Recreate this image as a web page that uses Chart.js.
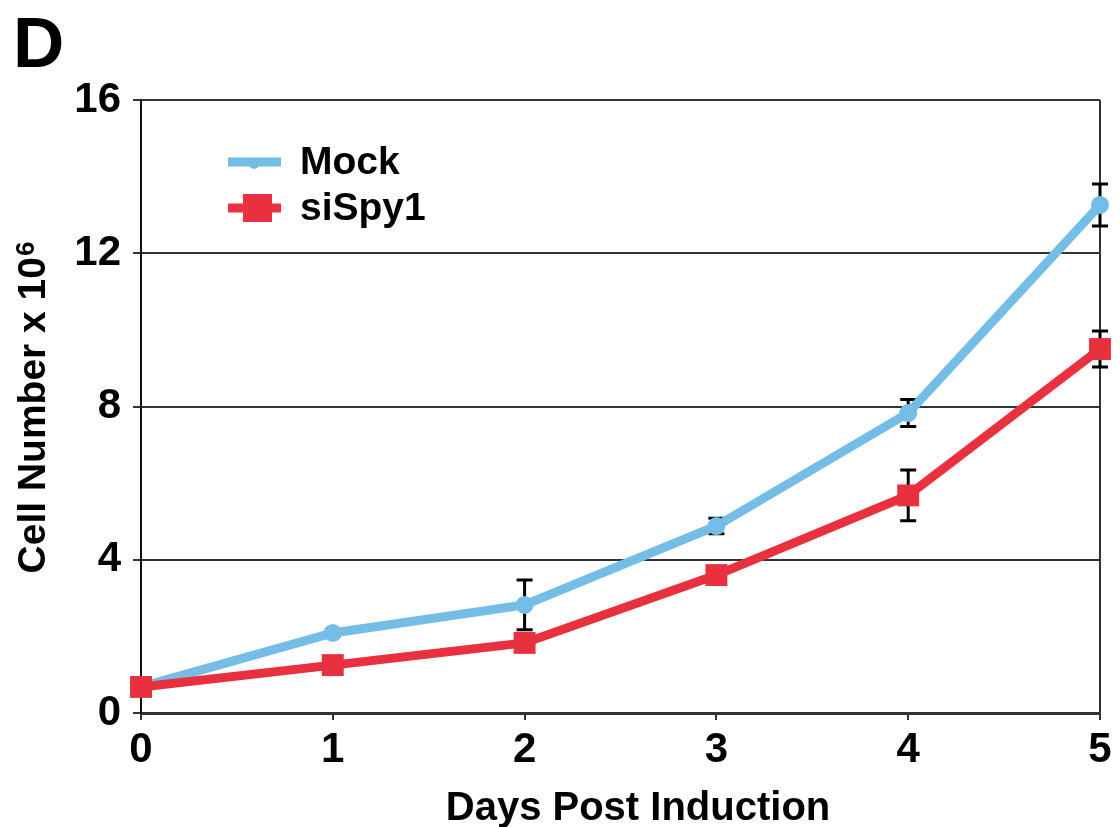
<!DOCTYPE html>
<html>
<head>
<meta charset="utf-8">
<script src="https://cdn.jsdelivr.net/npm/chart.js@4/dist/chart.umd.min.js"></script>
<style>
  html, body { margin: 0; padding: 0; background: #fff; }
  #wrap { width: 1120px; height: 827px; position: relative; }
</style>
</head>
<body>
<div id="wrap"><canvas id="growth-chart"></canvas></div>
<script>
const days = [0, 1, 2, 3, 4, 5];
const mockValues = [0.68, 2.09, 2.82, 4.88, 7.83, 13.26];
const mockErrors = [0, 0.08, 0.65, 0.2, 0.35, 0.55];
const sispyValues = [0.68, 1.25, 1.83, 3.6, 5.68, 9.5];
const sispyErrors = [0, 0.1, 0.15, 0.1, 0.66, 0.47];
const yTicks = [0, 4, 8, 12, 16];

const FONT = "'Liberation Sans', Arial, sans-serif";
const MOCK_COLOR = "#74bde7";
const SISPY_COLOR = "#e8303f";

function toPoints(values, errors) {
  return values.map((v, i) => ({ x: days[i], y: v, err: errors[i] }));
}

// error bars go under the lines and markers
const errorBars = {
  id: "errorBars",
  beforeDatasetsDraw(chart) {
    const ctx = chart.ctx;
    const yScale = chart.scales.y;
    ctx.save();
    ctx.strokeStyle = "#000";
    ctx.lineWidth = 3;
    chart.data.datasets.forEach((ds, di) => {
      const meta = chart.getDatasetMeta(di);
      meta.data.forEach((pt, i) => {
        const d = ds.data[i];
        if (!d.err) return;
        const top = yScale.getPixelForValue(d.y + d.err);
        const bot = yScale.getPixelForValue(d.y - d.err);
        ctx.beginPath();
        ctx.moveTo(pt.x, top);
        ctx.lineTo(pt.x, bot);
        ctx.moveTo(pt.x - 8, top);
        ctx.lineTo(pt.x + 8, top);
        ctx.moveTo(pt.x - 8, bot);
        ctx.lineTo(pt.x + 8, bot);
        ctx.stroke();
      });
    });
    ctx.restore();
  },
};

// panel letter, axis titles, legend
const decorations = {
  id: "decorations",
  afterDraw(chart) {
    const ctx = chart.ctx;
    const area = chart.chartArea;
    ctx.save();
    ctx.fillStyle = "#000";
    ctx.textBaseline = "alphabetic";
    ctx.font = "bold 71px " + FONT;
    ctx.fillText("D", 13, 67);

    // x title
    ctx.font = "bold 40px " + FONT;
    ctx.textAlign = "center";
    ctx.fillText("Days Post Induction", 638, 820);
    ctx.textAlign = "left";

    // y title with superscript
    ctx.save();
    ctx.translate(45, 408);
    ctx.rotate(-Math.PI / 2);
    const main = "Cell Number x 10";
    ctx.font = "bold 39px " + FONT;
    const w1 = ctx.measureText(main).width;
    ctx.font = "bold 26px " + FONT;
    const w2 = ctx.measureText("6").width;
    const start = -(w1 + w2) / 2;
    ctx.font = "bold 39px " + FONT;
    ctx.fillText(main, start, 0);
    ctx.font = "bold 26px " + FONT;
    ctx.fillText("6", start + w1 + 1, -11);
    ctx.restore();

    // legend
    const lx = area.left + 87;
    const rows = [
      { label: "Mock", color: MOCK_COLOR, y: 162, style: "circle" },
      { label: "siSpy1", color: SISPY_COLOR, y: 208, style: "rect" },
    ];
    ctx.font = "bold 39px " + FONT;
    ctx.textBaseline = "middle";
    rows.forEach((r) => {
      ctx.strokeStyle = r.color;
      ctx.fillStyle = r.color;
      ctx.lineWidth = 9;
      ctx.beginPath();
      ctx.moveTo(lx, r.y);
      ctx.lineTo(lx + 53, r.y);
      ctx.stroke();
      if (r.style === "rect") {
        ctx.fillRect(lx + 15, r.y - 14, 29, 28);
      } else {
        ctx.beginPath();
        ctx.arc(lx + 26, r.y + 2, 5, 0, Math.PI * 2);
        ctx.fill();
      }
      ctx.fillStyle = "#000";
      ctx.fillText(r.label, lx + 72, r.y + 1);
    });
    ctx.restore();
  },
};

const ctx = document.getElementById("growth-chart").getContext("2d");
new Chart(ctx, {
  type: "line",
  data: {
    datasets: [
      {
        label: "Mock",
        data: toPoints(mockValues, mockErrors),
        borderColor: MOCK_COLOR,
        backgroundColor: MOCK_COLOR,
        borderWidth: 9,
        pointStyle: "circle",
        pointRadius: 9,
        pointBorderWidth: 0,
        clip: false,
        order: 2,
      },
      {
        label: "siSpy1",
        data: toPoints(sispyValues, sispyErrors),
        borderColor: SISPY_COLOR,
        backgroundColor: SISPY_COLOR,
        borderWidth: 9,
        pointStyle: "rect",
        pointRadius: 15.5,
        pointBorderWidth: 0,
        clip: false,
        order: 1,
      },
    ],
  },
  options: {
    responsive: true,
    maintainAspectRatio: false,
    animation: false,
    layout: { padding: { left: 0, right: 20, top: 100, bottom: 0 } },
    plugins: {
      legend: { display: false },
      tooltip: { enabled: false },
    },
    scales: {
      x: {
        type: "linear",
        min: 0,
        max: 5,
        afterFit(scale) {
          scale.height = 114;
        },
        ticks: {
          stepSize: 1,
          color: "#000",
          padding: 5,
          font: { family: FONT, size: 42, weight: "bold" },
        },
        grid: {
          drawOnChartArea: true,
          color: (c) => (c.tick && c.tick.value === 5 ? "#333" : "rgba(0,0,0,0)"),
          lineWidth: 2,
          tickColor: "#333",
          tickLength: 7,
        },
        border: { color: "#333", width: 3 },
      },
      y: {
        min: 0,
        max: 16,
        afterFit(scale) {
          scale.width = 141;
        },
        afterBuildTicks(scale) {
          scale.ticks = yTicks.map((v) => ({ value: v }));
        },
        ticks: {
          color: "#000",
          padding: 12,
          font: { family: FONT, size: 42, weight: "bold" },
        },
        grid: {
          color: "#333",
          lineWidth: 2,
          tickColor: "#333",
          tickLength: 8,
        },
        border: { color: "#111", width: 2 },
      },
    },
  },
  plugins: [errorBars, decorations],
});
</script>
</body>
</html>
